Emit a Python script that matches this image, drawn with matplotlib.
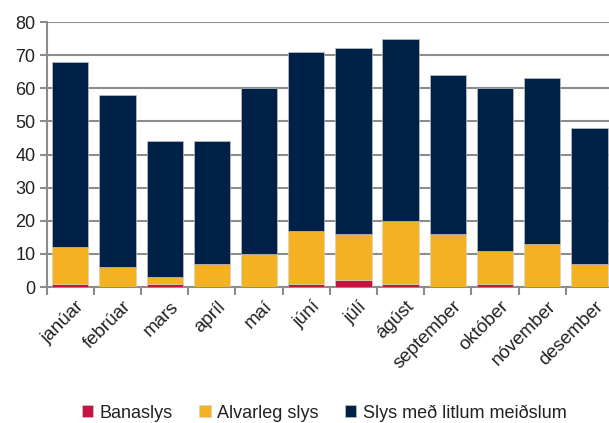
import matplotlib
matplotlib.use("Agg")
import matplotlib.pyplot as plt
import matplotlib.transforms as mtransforms
import numpy as np

months = ["janúar", "febrúar", "mars", "apríl", "maí", "júní", "júlí",
          "ágúst", "september", "október", "nóvember", "desember"]
banaslys = [1, 0, 1, 0, 0, 1, 2, 1, 0, 1, 0, 0]
alvarleg = [11, 6, 2, 7, 10, 16, 14, 19, 16, 10, 13, 7]
litlum = [56, 52, 41, 37, 50, 54, 56, 55, 48, 49, 50, 41]
series_names = ["Banaslys", "Alvarleg slys", "Slys með litlum meiðslum"]
colors = ["#C8143C", "#F4B223", "#002147"]
yticks = [0, 10, 20, 30, 40, 50, 60, 70, 80]

plt.rcParams['font.family'] = ['Liberation Sans', 'DejaVu Sans']

fig = plt.figure(figsize=(6.09, 4.23), dpi=100)
W, H = 609, 423
left, right = 46.7, 613
bottom, top = 287, 22
ax = fig.add_axes([left / W, 1 - bottom / H, (right - left) / W, (bottom - top) / H])

x = np.arange(len(months))
b = np.array(banaslys)
a = np.array(alvarleg)
l = np.array(litlum)
bw = 0.77
ax.bar(x, b, bw, color=colors[0], label=series_names[0], zorder=3, edgecolor="#d0d0d0", linewidth=0.4)
ax.bar(x, a, bw, bottom=b, color=colors[1], label=series_names[1], zorder=3, edgecolor="#d0d0d0", linewidth=0.4)
ax.bar(x, l, bw, bottom=b + a, color=colors[2], label=series_names[2], zorder=3, edgecolor="#c0c0c0", linewidth=0.5)

ax.set_xlim(-0.5, len(months) - 0.5)
ax.set_ylim(0, 80)
ax.set_yticks(yticks)
ax.set_yticklabels([str(v) for v in yticks], fontsize=13, color="#222222")
ax.grid(axis="y", color="#8c8c8c", linewidth=1.5, zorder=0)
ax.set_axisbelow(True)

for s in ["top", "right"]:
    ax.spines[s].set_visible(False)
ax.spines["left"].set_color("#8c8c8c")
ax.spines["left"].set_linewidth(1.5)
ax.spines["bottom"].set_color("#8c8c8c")
ax.spines["bottom"].set_linewidth(1.5)
ax.tick_params(axis="y", length=5, width=1.5, color="#8c8c8c", pad=3)

ax.set_xticks(x)
ax.set_xticklabels(months, rotation=45, ha="right", rotation_mode="anchor",
                   fontsize=13.5, color="#222222")
ax.tick_params(axis="x", length=0, pad=8)
offset = mtransforms.ScaledTranslation(5 / 100, 0, fig.dpi_scale_trans)
for lbl in ax.get_xticklabels():
    lbl.set_transform(lbl.get_transform() + offset)
ax.set_xticks(np.arange(len(months)) - 0.5, minor=True)
ax.tick_params(axis="x", which="minor", length=6, width=1.5, color="#8c8c8c")

leg = fig.legend(loc="center", bbox_to_anchor=(324 / W, 1 - 413 / H), ncol=3,
                 frameon=False, fontsize=13, handlelength=0.65, handleheight=0.65,
                 handletextpad=0.35, columnspacing=1.45)
for t in leg.get_texts():
    t.set_color("#222222")

fig.savefig("out.png", dpi=100)
